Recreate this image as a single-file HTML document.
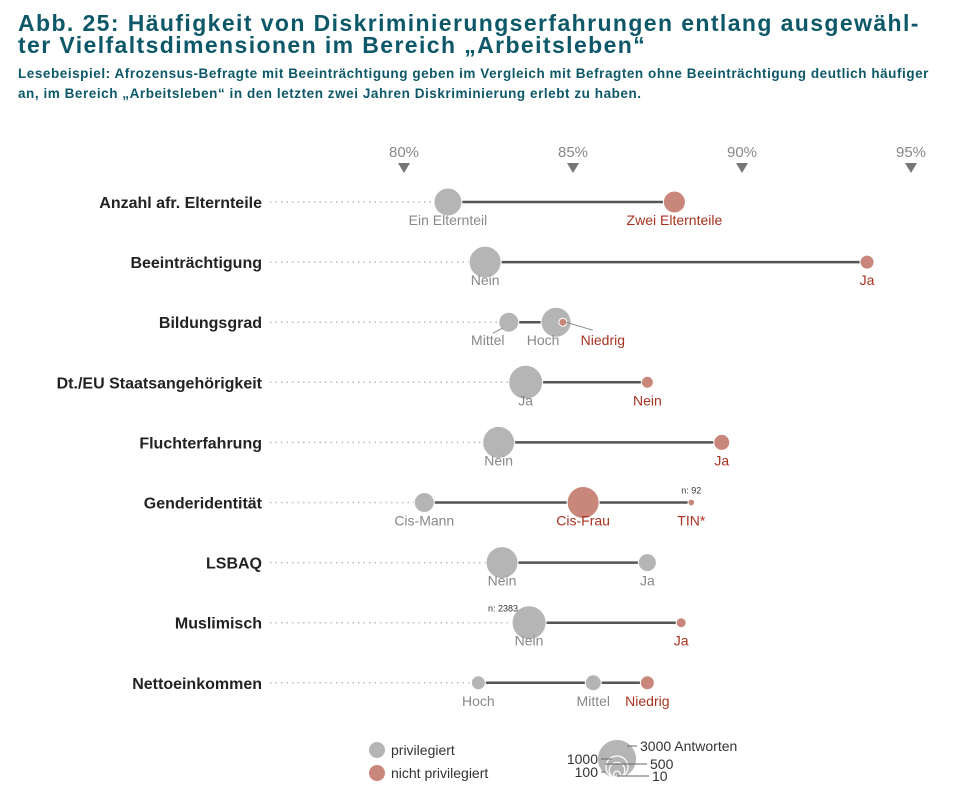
<!DOCTYPE html>
<html><head><meta charset="utf-8"><style>
body{margin:0;background:#fff;width:972px;height:804px;overflow:hidden;font-family:"Liberation Sans","DejaVu Sans",sans-serif}
h1{position:absolute;left:18px;top:12px;margin:0;font-size:23px;line-height:22px;color:#0d5868;font-weight:bold;letter-spacing:1.4px;white-space:nowrap}
p{position:absolute;left:18px;top:64px;margin:0;font-size:13.5px;line-height:20px;color:#0d5868;font-weight:bold;width:935px;letter-spacing:0.55px}
svg{position:absolute;left:0;top:0}
</style></head><body>
<h1>Abb. 25: Häufigkeit von Diskriminierungserfahrungen entlang ausgewähl-<br>ter Vielfaltsdimensionen im Bereich „Arbeitsleben“</h1>
<p>Lesebeispiel: Afrozensus-Befragte mit Beeinträchtigung geben im Vergleich mit Befragten ohne Beeinträchtigung deutlich häufiger<br>an, im Bereich „Arbeitsleben“ in den letzten zwei Jahren Diskriminierung erlebt zu haben.</p>
<svg id="chart" width="972" height="804"></svg>
<script>
const categories=["Anzahl afr. Elternteile","Beeinträchtigung","Bildungsgrad","Dt./EU Staatsangehörigkeit","Fluchterfahrung","Genderidentität","LSBAQ","Muslimisch","Nettoeinkommen"];
const pointLabels=[["Ein Elternteil","Zwei Elternteile"],["Nein","Ja"],["Mittel","Hoch","Niedrig"],["Ja","Nein"],["Nein","Ja"],["Cis-Mann","Cis-Frau","TIN*"],["Nein","Ja"],["Nein","Ja"],["Hoch","Mittel","Niedrig"]];
const pointValues=[[81.3,88.0],[82.4,93.7],[83.1,84.5,84.7],[83.6,87.2],[82.8,89.4],[80.6,85.3,88.5],[82.9,87.2],[83.7,88.2],[82.2,85.6,87.2]];
const pointCounts=[[1618,1000],[2114,405],[826,1858,132],[2383,297],[2114,528],[826,2114,92],[2114,669],[2383,206],[405,528,405]];
const pointPrivileged=[[1,0],[1,0],[1,1,0],[1,0],[1,0],[1,0,0],[1,1],[1,0],[1,1,0]];
const tickValues=[80,85,90,95];
const tickLabels=["80%","85%","90%","95%"];
const legendCounts=[3000,1000,500,100,10];

const NS="http://www.w3.org/2000/svg";
const svg=document.getElementById("chart");
const x=v=>404+(v-80)*33.8;
const y=i=>202+i*60.1;
const r=n=>0.348*Math.sqrt(n);
function el(t,a,p){const e=document.createElementNS(NS,t);for(const k in a)e.setAttribute(k,a[k]);(p||svg).appendChild(e);return e;}
const GRAY="#b5b5b5",RED="#c8877a",GT="#888",RT="#a8321f";

tickValues.forEach((v,i)=>{
  const t=el("text",{x:x(v),y:157,"text-anchor":"middle","font-size":15,fill:"#888"});
  t.textContent=tickLabels[i];
  
  
  const m=el("path",{d:`M${x(v)-6},${163}L${x(v)+6},${163}L${x(v)},${173}Z`,fill:"#777"});
  
  
});

categories.forEach((c,i)=>{
  const yy=y(i);
  const g=el("g",{});
  
  
  const lab=el("text",{x:262,y:yy+6,"text-anchor":"end","font-size":16,"font-weight":"bold",fill:"#222"},g);
  lab.textContent=c;
  
  
  const vals=pointValues[i];
  const mn=Math.min(...vals),mx=Math.max(...vals);
  const d=el("line",{x1:270,x2:x(mn),y1:yy,y2:yy,stroke:"#bbb","stroke-width":1.5,"stroke-dasharray":"1.5 4"},g);
  
  
  const ln=el("line",{x1:x(mn),x2:x(mx),y1:yy,y2:yy,stroke:"#555","stroke-width":2.5},g);
  
  
  vals.forEach((v,j)=>{
    const priv=pointPrivileged[i][j];
    const rr=r(pointCounts[i][j]);
    const cx=x(v);
    const ci=el("circle",{cx:cx,cy:yy,r:rr,fill:priv?GRAY:RED,stroke:"#fff","stroke-width":1},g);
    
    
    let lx=cx,ly=yy+23;
    if(i===2&&j===0){lx=cx-21;el("line",{x1:cx-6,y1:yy+6,x2:cx-16,y2:yy+11,stroke:"#888"},g);}
    if(i===2&&j===2){lx=cx+40;el("line",{x1:cx+3,y1:yy,x2:cx+30,y2:yy+8,stroke:"#888"},g);}
    if(i===2&&j===1){lx=cx-13;}
    const t=el("text",{x:lx,y:ly,"text-anchor":"middle","font-size":14,fill:priv?GT:RT},g);
    t.textContent=pointLabels[i][j];
    
    
  });
});
const a1=el("text",{x:x(pointValues[5][2]),y:y(5)-9,"text-anchor":"middle","font-size":9,fill:"#333"});
a1.textContent="n: 92";


const a2=el("text",{x:x(pointValues[7][0])-26,y:y(7)-11,"text-anchor":"middle","font-size":9,fill:"#333"});
a2.textContent="n: 2383";



[[GRAY,"privilegiert",750],[RED,"nicht privilegiert",773]].forEach(([c,l,yy])=>{
  const ci=el("circle",{cx:377,cy:yy,r:8,fill:c});
  
  
  const t=el("text",{x:391,y:yy+5,"font-size":14,fill:"#333"});
  t.textContent=l;
  
  
});
const by=778,bx=617;
legendCounts.forEach((n,i)=>{
  const rr=r(n);
  const ci=el("circle",{cx:bx,cy:by-rr,r:rr,fill:i===0?GRAY:"none",stroke:i===0?"none":"#fff","stroke-width":1.2});
  
  
});
const sl=[["3000 Antworten",627,746,640,"start"],["1000",612,759,598,"end"],["500",605,764,650,"start"],["100",605,772,598,"end"],["10",617,776,652,"start"]];
sl.forEach(([l,x1,y1,tx,an])=>{
  el("line",{x1:x1,y1:y1,x2:an==="start"?tx-3:tx+3,y2:y1,stroke:"#666"});
  const t=el("text",{x:tx,y:y1+5,"text-anchor":an,"font-size":14,fill:"#333"});
  t.textContent=l;
  
  
});
</script>
</body></html>
